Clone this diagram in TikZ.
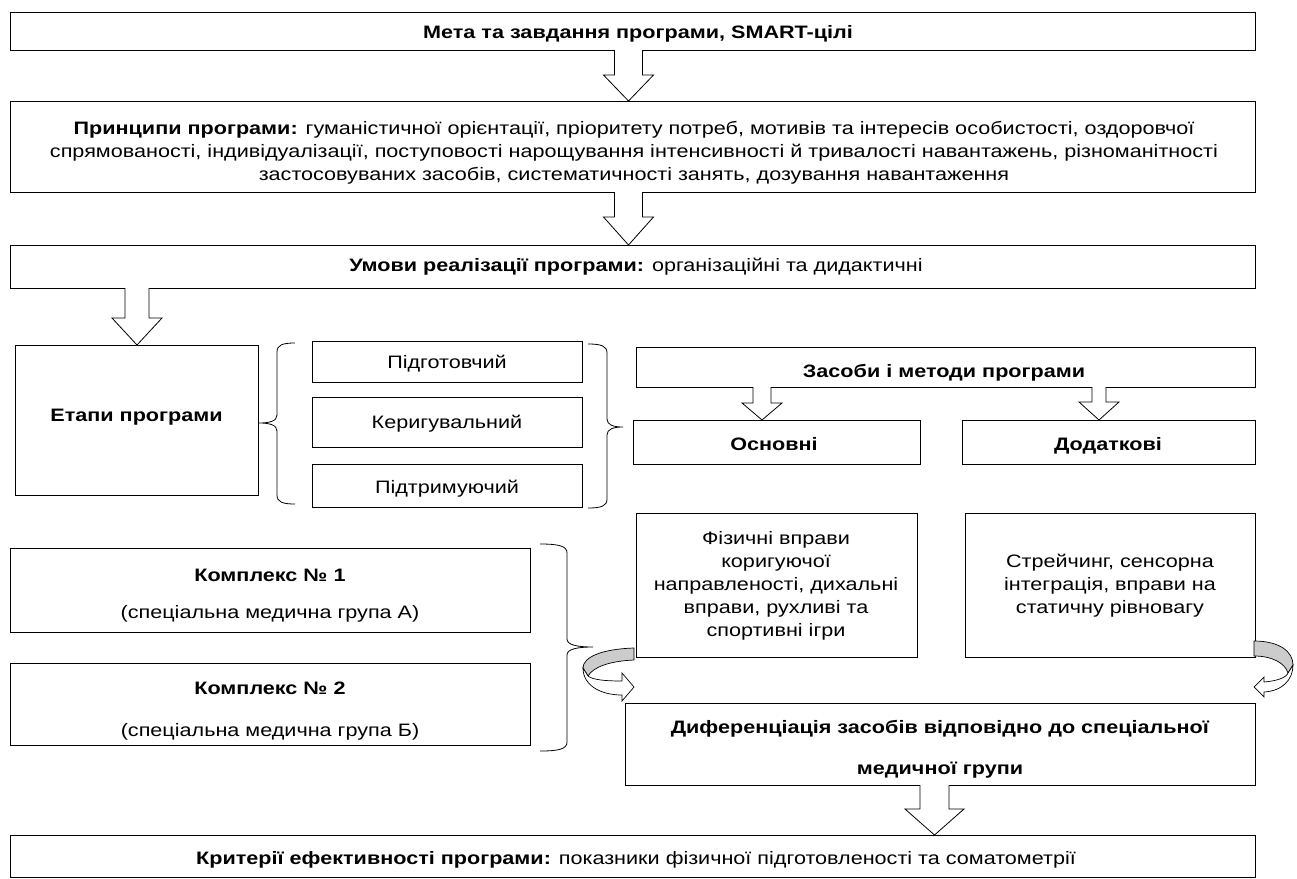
\documentclass[tikz,border=0pt]{standalone}
\usepackage{fontspec}
\setmainfont{Liberation Sans}[FakeStretch=1.2]
\begin{document}
\begin{tikzpicture}[x=1pt,y=-1pt,
  box/.style={draw=black, line width=0.9pt, inner sep=0pt, fill=white},
  txt/.style={inner sep=0pt, font=\fontsize{18}{23}\selectfont, align=center},
  one/.style={txt, text height=12.9pt, text depth=0pt},
  barrow/.style={draw=black, line width=0.8pt, fill=white, line join=miter},
  curvgray/.style={draw=black, line width=0.7pt, fill=gray!40},
  curvwhite/.style={draw=black, line width=0.7pt, fill=white},
  brace/.style={draw=black, line width=0.8pt}]
\useasboundingbox (0,0) rectangle (1297,878);
\newcommand\myarrow[6]{% x, ytop, yhead, ytip, shaft half, head half
  \draw[barrow] ({#1-#5},#2) -- ({#1-#5},#3) -- ({#1-#6},#3) -- (#1,#4) -- ({#1+#6},#3) -- ({#1+#5},#3) -- ({#1+#5},#2);}
\newcommand\mybrace[6]{% xend, xv, xtip, ytop, ymid, ybot
  \draw[brace] (#1,#4) .. controls ({#2+0.3*(#1-#2)},#4) and (#2,{#4+2}) .. (#2,{#4+9})
     -- (#2,{#5-8}) .. controls (#2,{#5-2}) and ({#2+0.4*(#3-#2)},#5) .. (#3,#5)
     (#3,#5) .. controls ({#2+0.4*(#3-#2)},#5) and (#2,{#5+2}) .. (#2,{#5+8})
     -- (#2,{#6-9}) .. controls (#2,{#6-2}) and ({#2+0.3*(#1-#2)},#6) .. (#1,#6);}

% boxes
\node[box, minimum width=1245, minimum height=38] (meta) at (632.5,31) {};
\node[one] (metat) at (638,32) {\textbf{Мета та завдання програми, SMART-цілі}};

\node[box, minimum width=1245, minimum height=91] (princ) at (632.5,146.5) {};
\node[txt] (princt) at (634,153) {\textbf{Принципи програми:} гуманістичної орієнтації, пріоритету потреб, мотивів та інтересів особистості, оздоровчої\\
спрямованості, індивідуалізації, поступовості нарощування інтенсивності й тривалості навантажень, різноманітності\\
застосовуваних засобів, систематичності занять, дозування навантаження};

\node[box, minimum width=1245, minimum height=43] (umovy) at (632.5,266.5) {};
\node[one] (umovyt) at (636,265) {\textbf{Умови реалізації програми:} організаційні та дидактичні};

\node[box, minimum width=243, minimum height=150] (etapy) at (136.5,420) {};
\node[one] (etapyt) at (136.5,415) {\textbf{Етапи програми}};

\node[box, minimum width=270, minimum height=41] (st1) at (447,361.5) {};
\node[one] at (447,362) {Підготовчий};
\node[box, minimum width=270, minimum height=50] (st2) at (447,422) {};
\node[one] at (447,422) {Керигувальний};
\node[box, minimum width=270, minimum height=43] (st3) at (447,485.5) {};
\node[one] at (447,487) {Підтримуючий};

\node[box, minimum width=619, minimum height=40] (zas) at (945.5,367) {};
\node[one] (zast) at (944,371) {\textbf{Засоби і методи програми}};

\node[box, minimum width=287, minimum height=44] (osn) at (776.5,442) {};
\node[one] at (774,444) {\textbf{Основні}};
\node[box, minimum width=293, minimum height=44] (dod) at (1108.5,442) {};
\node[one] at (1108,444) {\textbf{Додаткові}};

\node[box, minimum width=281, minimum height=144] (fiz) at (776.5,585) {};
\node[txt] (fizt) at (776,585.5) {Фізичні вправи\\ коригуючої\\ направленості, дихальні\\ вправи, рухливі та\\ спортивні ігри};
\node[box, minimum width=290, minimum height=144] (str) at (1110,585) {};
\node[txt] (strt) at (1110,586) {Стрейчинг, сенсорна\\ інтеграція, вправи на\\ статичну рівновагу};

\node[box, minimum width=520, minimum height=84] (k1) at (270,590) {};
\node[one] (k1a) at (270,575) {\textbf{Комплекс № 1}};
\node[one] (k1b) at (270,612) {(спеціальна медична група А)};
\node[box, minimum width=520, minimum height=82] (k2) at (270,704) {};
\node[one] (k2a) at (270,688) {\textbf{Комплекс № 2}};
\node[one] (k2b) at (270,730) {(спеціальна медична група Б)};

\node[box, minimum width=630, minimum height=82] (dyf) at (940,744) {};
\node[one] (dyfa) at (940,727) {\textbf{Диференціація засобів відповідно до спеціальної}};
\node[one] (dyfb) at (940,768) {\textbf{медичної групи}};

\node[box, minimum width=1245, minimum height=42] (kryt) at (632.5,856) {};
\node[one] (krytt) at (636,858) {\textbf{Критерії ефективності програми:} показники фізичної підготовленості та соматометрії};

% block arrows
\myarrow{628.5}{50}{75}{101}{14}{25}
\myarrow{628.5}{192}{217}{245}{14}{25}
\myarrow{137}{288}{318}{345}{12}{25}
\myarrow{762}{387}{403}{420}{9}{20}
\myarrow{1099}{387}{402}{420}{7}{20}
\myarrow{934.5}{785}{809}{835}{14.5}{29.5}

% braces
\mybrace{295}{277}{259}{343}{423}{504}
\mybrace{588}{607}{623}{344}{427}{508}
\mybrace{540}{567}{593}{544}{647}{751}

% curved arrows
\draw[curvgray] (634,648) .. controls (602,649) and (583,657) .. (583,668)
   -- (588,676) .. controls (593,667) and (610,661) .. (634,660) -- cycle;
\draw[curvwhite] (583,668) .. controls (583,685) and (600,695) .. (622,695)
   -- (622,701) -- (634,687) -- (622,673) -- (622,681)
   .. controls (606,681) and (593,680) .. (588,676) -- cycle;
\draw[curvgray] (1254,641) .. controls (1280,641) and (1293,652) .. (1293,665)
   -- (1288,673) .. controls (1285,663) and (1272,656) .. (1254,656) -- cycle;
\draw[curvwhite] (1293,665) .. controls (1293,680) and (1282,691) .. (1264,692)
   -- (1264,697) -- (1254,687) -- (1264,677) -- (1264,682)
   .. controls (1276,681) and (1286,678) .. (1288,673) -- cycle;
\end{tikzpicture}
\end{document}
